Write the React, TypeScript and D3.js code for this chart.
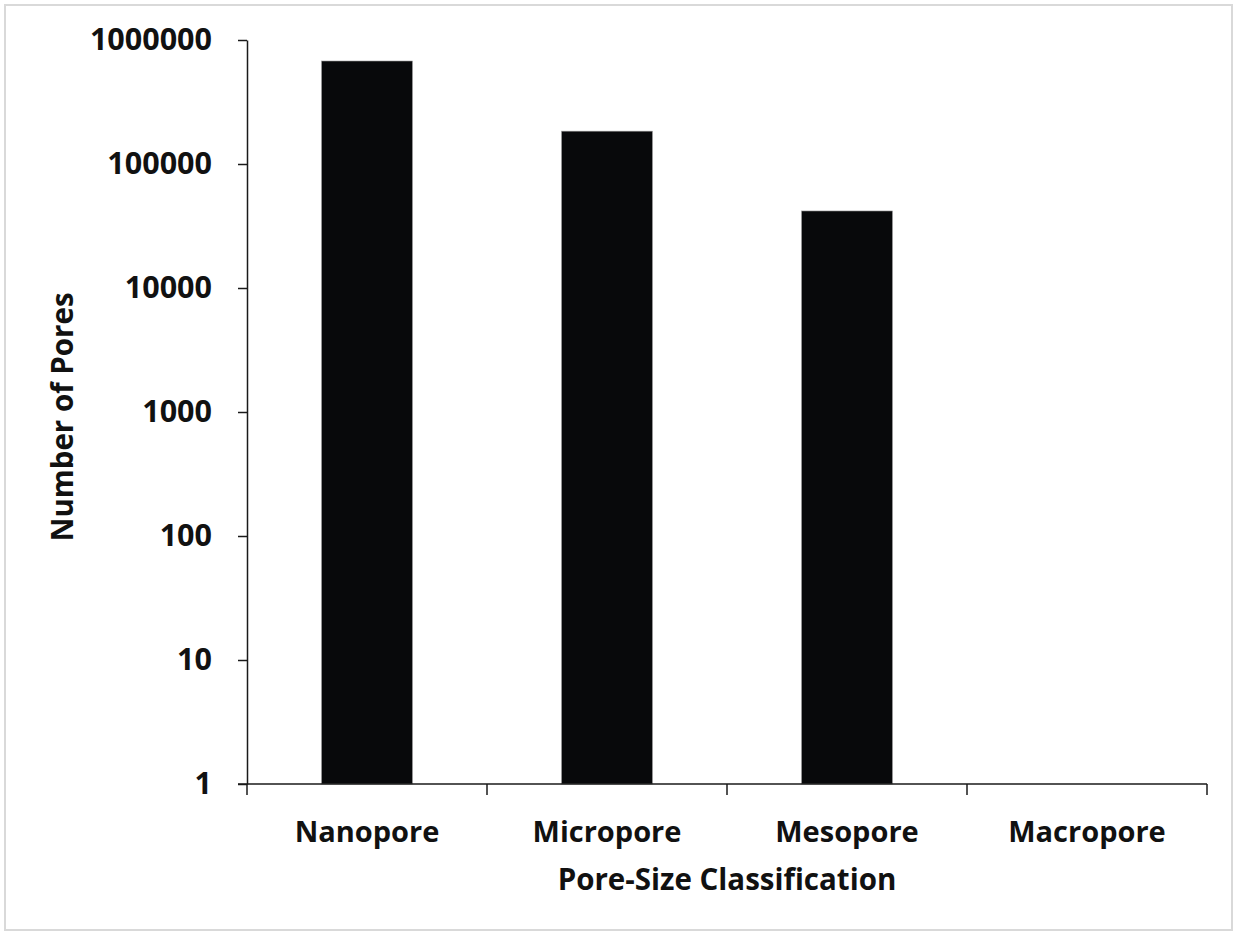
import React, { useEffect, useRef } from 'react';
import * as d3 from 'd3';

// pore counts (Macropore has no bar)
const categories = ['Nanopore', 'Micropore', 'Mesopore', 'Macropore'];
const poreCounts = [677000, 184000, 41800, 0];
const yTickValues = [1, 10, 100, 1000, 10000, 100000, 1000000];

const W = 1233;
const H = 931;
const FONT = '"Open Sans", sans-serif';

const App: React.FC = () => {
    const ref = useRef<SVGSVGElement>(null);

    useEffect(() => {
        const svg = d3.select(ref.current);
        svg.selectAll('*').remove();

        const left = 247, right = 1207, top = 40, bottom = 784;

        // outer frame
        svg.append('rect')
            .attr('x', 5).attr('y', 5)
            .attr('width', W - 6).attr('height', H - 6)
            .attr('fill', '#fff')
            .attr('stroke', '#d9d9d9')
            .attr('stroke-width', 2);

        const x = d3.scaleBand<string>().domain(categories).range([left, right]).padding(0);
        const y = d3.scaleLog().domain([1, 1000000]).range([bottom, top]);

        const gapWidth = 1.64;
        const barW = x.bandwidth() / (1 + gapWidth);

        svg.append('g')
            .selectAll('rect')
            .data(categories.map((c, i) => ({ c, v: poreCounts[i] })).filter(d => d.v > 0))
            .enter().append('rect')
            .attr('x', d => (x(d.c) as number) + (x.bandwidth() - barW) / 2)
            .attr('y', d => y(d.v))
            .attr('width', barW)
            .attr('height', d => bottom - y(d.v))
            .attr('fill', '#08090b')
            .attr('stroke', '#9a9a9a')
            .attr('stroke-width', 0.6);

        // y axis
        const yAxis = svg.append('g')
            .attr('transform', `translate(${left},0)`)
            .call(d3.axisLeft(y).tickValues(yTickValues).tickFormat(d3.format('d')).tickSize(9).tickSizeOuter(0).tickPadding(26));
        yAxis.select('.domain').attr('stroke', '#1a1a1a').attr('stroke-width', 1.5);
        yAxis.selectAll('.tick line').attr('stroke', '#1a1a1a').attr('stroke-width', 1.5);
        yAxis.selectAll('.tick text')
            .attr('font-family', FONT).attr('font-weight', 700).attr('font-size', 30.5).attr('fill', '#111');

        // x axis: line plus ticks on category boundaries
        const xg = svg.append('g');
        xg.append('line')
            .attr('x1', left - 9).attr('x2', right)
            .attr('y1', bottom).attr('y2', bottom)
            .attr('stroke', '#1a1a1a').attr('stroke-width', 1.5);
        const bounds = categories.map(c => x(c) as number).concat([right]);
        xg.selectAll('line.tk')
            .data(bounds)
            .enter().append('line')
            .attr('class', 'tk')
            .attr('x1', d => d).attr('x2', d => d)
            .attr('y1', bottom).attr('y2', bottom + 11)
            .attr('stroke', '#1a1a1a').attr('stroke-width', 1.5);
        xg.selectAll('text')
            .data(categories)
            .enter().append('text')
            .attr('x', d => (x(d) as number) + x.bandwidth() / 2)
            .attr('y', 842)
            .attr('text-anchor', 'middle')
            .attr('font-family', FONT).attr('font-weight', 700).attr('font-size', 29).attr('fill', '#111')
            .text(d => d);

        // axis titles
        svg.append('text')
            .attr('x', (left + right) / 2)
            .attr('y', 890)
            .attr('text-anchor', 'middle')
            .attr('font-family', FONT).attr('font-weight', 700).attr('font-size', 29.5).attr('fill', '#111')
            .text('Pore-Size Classification');

        svg.append('text')
            .attr('transform', `translate(73,${(top + bottom) / 2 + 5}) rotate(-90)`)
            .attr('text-anchor', 'middle')
            .attr('font-family', FONT).attr('font-weight', 700).attr('font-size', 29.5).attr('fill', '#111')
            .text('Number of Pores');
    }, []);

    return (
        <svg ref={ref} width={W} height={H}
            style={{ position: 'absolute', left: 0, top: 0, background: '#fff' }} />
    );
};

export default App;
